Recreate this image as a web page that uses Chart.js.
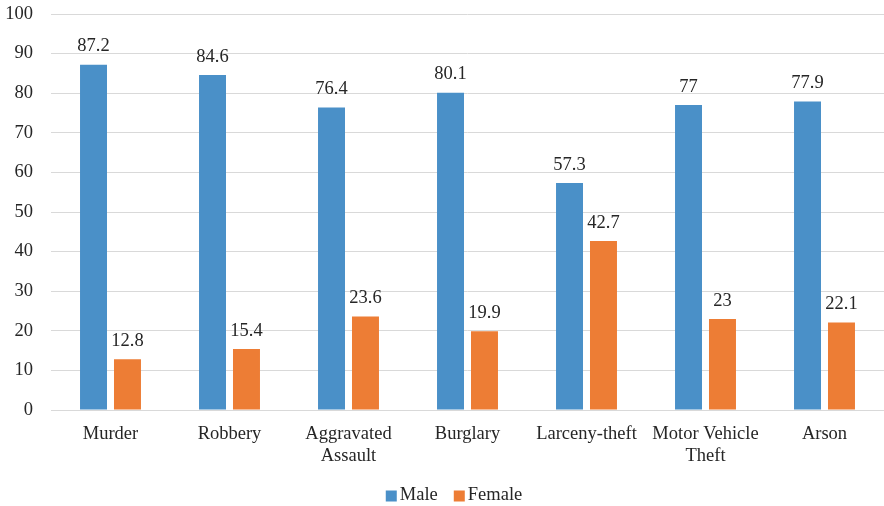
<!DOCTYPE html>
<html>
<head>
<meta charset="utf-8">
<script src="https://cdn.jsdelivr.net/npm/chart.js@4/dist/chart.umd.min.js"></script>
<style>
  html, body { margin: 0; padding: 0; background: #ffffff; overflow: hidden; }
  #wrap { width: 884px; height: 506px; }
</style>
</head>
<body>
<div id="wrap"><canvas id="c" width="884" height="506"></canvas></div>
<script>
const categories = ['Murder', 'Robbery', ['Aggravated', 'Assault'], 'Burglary', 'Larceny-theft', ['Motor Vehicle', 'Theft'], 'Arson'];
const maleValues = [87.2, 84.6, 76.4, 80.1, 57.3, 77, 77.9];
const femaleValues = [12.8, 15.4, 23.6, 19.9, 42.7, 23, 22.1];
const yTicks = [0, 10, 20, 30, 40, 50, 60, 70, 80, 90, 100];

const FONT = "'Liberation Serif', 'Times New Roman', serif";
const TEXT = '#262626';
const SIZE = 18.5;

// Writes each bar's value just above it
const valueLabels = {
  id: 'valueLabels',
  afterDatasetsDraw(chart) {
    const ctx = chart.ctx;
    ctx.save();
    ctx.font = SIZE + 'px ' + FONT;
    ctx.fillStyle = TEXT;
    ctx.textAlign = 'center';
    ctx.textBaseline = 'bottom';
    chart.data.datasets.forEach((ds, i) => {
      chart.getDatasetMeta(i).data.forEach((bar, j) => {
        ctx.fillText(String(ds.data[j]), bar.x, bar.y - 9);
      });
    });
    ctx.restore();
  }
};

// Compact legend row under the axis: small square, tight gap, label
const compactLegend = {
  id: 'compactLegend',
  afterDraw(chart) {
    const ctx = chart.ctx;
    const box = 11, textGap = 3, itemGap = 16;
    ctx.save();
    ctx.font = SIZE + 'px ' + FONT;
    ctx.textBaseline = 'middle';
    ctx.textAlign = 'left';
    const items = chart.data.datasets.map(ds => ({
      label: ds.label, color: ds.backgroundColor, w: ctx.measureText(ds.label).width
    }));
    const total = items.reduce((s, it) => s + box + textGap + it.w, 0) + itemGap * (items.length - 1);
    let x = chart.width / 2 + 12 - total / 2;
    const cy = chart.height - 11;
    items.forEach(it => {
      ctx.fillStyle = it.color;
      ctx.fillRect(x, cy - box / 2 + 1, box, box);
      ctx.fillStyle = TEXT;
      ctx.fillText(it.label, x + box + textGap, cy);
      x += box + textGap + it.w + itemGap;
    });
    ctx.restore();
  }
};

new Chart(document.getElementById('c'), {
  type: 'bar',
  data: {
    labels: categories,
    datasets: [
      { label: 'Male', data: maleValues, backgroundColor: '#4A90C8' },
      { label: 'Female', data: femaleValues, backgroundColor: '#ED7D35' }
    ]
  },
  options: {
    responsive: false,
    animation: false,
    devicePixelRatio: 1,
    layout: { padding: { top: 14, right: 0, bottom: 35, left: 0 } },
    datasets: { bar: { categoryPercentage: 0.571, barPercentage: 0.794 } },
    plugins: {
      tooltip: { enabled: false },
      legend: { display: false }
    },
    scales: {
      x: {
        grid: { display: false },
        border: { display: true, color: '#d9d9d9', width: 1 },
        afterFit(scale) { scale.height = 61; },
        ticks: {
          font: { family: FONT, size: SIZE, lineHeight: 1.2 },
          color: TEXT,
          maxRotation: 0,
          autoSkip: false,
          padding: 5
        }
      },
      y: {
        min: 0,
        max: 100,
        afterBuildTicks(scale) { scale.ticks = yTicks.map(v => ({ value: v })); },
        afterFit(scale) { scale.width = 51; scale.paddingTop = 0; scale.paddingBottom = 0; },
        grid: { color: '#d9d9d9', drawTicks: false, lineWidth: 1 },
        border: { display: false },
        ticks: {
          font: { family: FONT, size: SIZE },
          color: TEXT,
          padding: 18
        }
      }
    }
  },
  plugins: [valueLabels, compactLegend]
});
</script>
</body>
</html>
